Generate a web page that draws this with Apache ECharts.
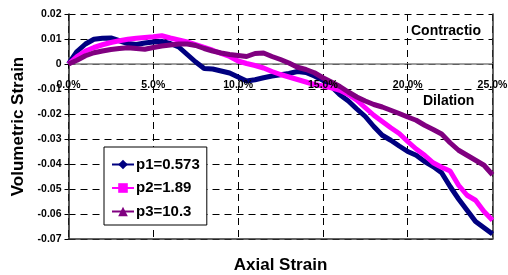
<!DOCTYPE html>
<html><head><meta charset="utf-8">
<script src="https://cdn.jsdelivr.net/npm/echarts@6/dist/echarts.min.js"></script>
<style>html,body{margin:0;padding:0;background:#fff}#c{width:508px;height:275px}</style>
</head><body><div id="c"></div>
<script>
var axialStrain = [0,0.5,1,1.5,2,2.5,3,3.5,4,4.5,5,5.5,6,6.5,7,7.5,8,8.5,9,9.5,10,10.5,11,11.5,12,12.5,13,13.5,14,14.5,15,15.5,16,16.5,17,17.5,18,18.5,19,19.5,20,20.5,21,21.5,22,22.5,23,23.5,24,24.5,25];
var p1Values = [0,0.005,0.008,0.0099,0.0103,0.0104,0.0093,0.0082,0.0078,0.0084,0.0088,0.009,0.0082,0.0068,0.0038,0.0008,-0.0018,-0.002,-0.0028,-0.0036,-0.0052,-0.0068,-0.0063,-0.0055,-0.0048,-0.0043,-0.0038,-0.003,-0.0034,-0.0048,-0.0065,-0.009,-0.0123,-0.0148,-0.018,-0.021,-0.025,-0.0285,-0.0305,-0.0328,-0.035,-0.0365,-0.039,-0.041,-0.0435,-0.049,-0.054,-0.0585,-0.063,-0.0655,-0.068];
var p2Values = [0,0.003,0.0052,0.0066,0.0077,0.0086,0.0093,0.0099,0.0103,0.0106,0.0109,0.0113,0.0104,0.0096,0.0088,0.0077,0.0066,0.0055,0.0042,0.003,0.0012,0.0002,-0.0006,-0.0016,-0.003,-0.0042,-0.0052,-0.0062,-0.0072,-0.0082,-0.0088,-0.0095,-0.0105,-0.0122,-0.0145,-0.0175,-0.0205,-0.023,-0.0255,-0.0278,-0.031,-0.034,-0.0365,-0.0395,-0.0413,-0.0428,-0.0485,-0.0525,-0.0545,-0.059,-0.0625];
var p3Values = [0,0.0015,0.0033,0.0045,0.0052,0.0058,0.0062,0.0065,0.0062,0.0059,0.0066,0.0072,0.0076,0.008,0.008,0.0074,0.0062,0.0052,0.0044,0.0038,0.0034,0.003,0.0042,0.0044,0.003,0.0018,0.0004,-0.0013,-0.0022,-0.0035,-0.0055,-0.0072,-0.009,-0.0112,-0.0132,-0.0148,-0.0162,-0.0172,-0.0185,-0.0198,-0.0212,-0.0225,-0.0245,-0.0262,-0.028,-0.0315,-0.0345,-0.0365,-0.0385,-0.0405,-0.0443];
var seriesNames = ['p1=0.573','p2=1.89','p3=10.3'];
var xTitle = 'Axial Strain';
var yTitle = 'Volumetric Strain';
var annotations = ['Contractio','Dilation'];

function pairs(vals){ return axialStrain.map(function(x,i){ return [x, vals[i]]; }); }
var FF = '"Liberation Sans", Arial, sans-serif';
var chart = echarts.init(document.getElementById('c'), null, {renderer:'canvas'});
var colors = ['#000080','#FF00FF','#800080'];
var symbols = ['diamond','rect','triangle'];
var vals = [p1Values,p2Values,p3Values];
var series = vals.map(function(v,i){
  return {
    name: seriesNames[i], type:'line', data: pairs(v), xAxisIndex:0, yAxisIndex:0,
    symbol: symbols[i], symbolSize: 7, showSymbol:false, smooth:false,
    lineStyle:{color:colors[i], width:5}, itemStyle:{color:colors[i]},
    animation:false, z: 3+i
  };
});
var gridTop = 14, gridBottom = 36, plotH = 275 - gridTop - gridBottom;
var yMin = -0.07, yMax = 0.02;
var zeroOffset = -plotH * (0 - yMin) / (yMax - yMin);
var xLabelFmt = function(v){ return v.toFixed(1)+'%'; };
chart.setOption({
  animation:false,
  grid:{left:68.5, right:15.5, top:gridTop, bottom:gridBottom, containLabel:false, outerBoundsMode:'none'},
  legend:{
    orient:'vertical', left:104, top:147, data:seriesNames,
    itemWidth:22, itemHeight:12, itemGap:8.5,
    backgroundColor:'#fff', borderColor:'#000', borderWidth:1,
    padding:[10,7,6,7],
    textStyle:{fontFamily:FF, fontSize:15, fontWeight:'bold', color:'#000', padding:[0,0,0,-3]}
  },
  xAxis:[{
    type:'value', min:0, max:25, interval:5, position:'bottom', offset: zeroOffset,
    axisLine:{show:true, onZero:false, lineStyle:{color:'#808080', width:1.5}},
    axisTick:{show:true, inside:false, length:4, lineStyle:{color:'#000'}},
    axisLabel:{show:false},
    splitLine:{show:true, lineStyle:{color:'#000', type:[7,5], width:1}}
  },{
    type:'value', min:0, max:25, interval:5, position:'bottom',
    axisLine:{show:true, onZero:false, lineStyle:{color:'#333', width:1.5}},
    axisTick:{show:false}, axisLabel:{show:false}, splitLine:{show:false},
    name: xTitle, nameLocation:'middle', nameGap:18,
    nameTextStyle:{fontFamily:FF, fontSize:17, fontWeight:'bold', color:'#000', verticalAlign:'top'}
  },{
    type:'value', min:0, max:25, interval:5, position:'bottom', offset: zeroOffset, zlevel:1,
    axisLine:{show:false, onZero:false}, axisTick:{show:false}, splitLine:{show:false},
    axisLabel:{margin:16, fontFamily:FF, fontSize:10.5, fontWeight:'bold', color:'#000', formatter:xLabelFmt}
  }],
  yAxis:[{
    type:'value', min:yMin, max:yMax, interval:0.01,
    axisLine:{show:true, onZero:false, lineStyle:{color:'#222', width:1.5}},
    axisTick:{show:true, length:4, lineStyle:{color:'#000'}},
    axisLabel:{margin:7, fontFamily:FF, fontSize:10.5, fontWeight:'bold', color:'#000',
      formatter:function(v){ var r=Math.round(v*100)/100; return (r===0?'0':String(r)); }},
    splitLine:{show:true, lineStyle:{color:'#000', type:[7,5], width:1}},
    name: yTitle, nameLocation:'middle', nameGap:42, nameRotate:90,
    nameTextStyle:{fontFamily:FF, fontSize:17, fontWeight:'bold', color:'#000'}
  },{
    type:'value', min:yMin, max:yMax, interval:0.01, position:'right',
    axisLine:{show:true, onZero:false, lineStyle:{color:'#333', width:1.5}},
    axisTick:{show:false}, axisLabel:{show:false}, splitLine:{show:false}
  }],
  graphic:[
    {type:'text', left:411, top:24, z:100, style:{text:annotations[0], font:'bold 14px '+FF, fill:'#000'}},
    {type:'text', left:423, top:94, z:100, style:{text:annotations[1], font:'bold 14px '+FF, fill:'#000'}}
  ],
  series: series
});
</script></body></html>
